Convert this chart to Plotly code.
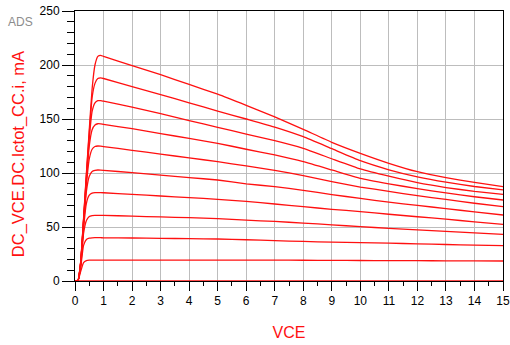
import plotly.graph_objects as go

# Collector-emitter voltage sample points (V)
vce = [0, 0.1, 0.2, 0.3, 0.4, 0.5, 0.6, 0.7, 0.8, 0.9,
       1, 2, 3, 4, 5, 6, 7, 8, 9, 10, 11, 12, 13, 14, 15]

# Collector current (mA), one family member per base-current step
ic_0 = [0] * 25
ic_1 = [0, 0, 9, 17, 18.9, 19.3, 19.4, 19.4, 19.4, 19.4,
        19.4, 19.4, 19.4, 19.4, 19.4, 19.3, 19.3, 19.2, 19.1, 19, 18.9, 18.8, 18.7, 18.6, 18.5]
ic_2 = [0, 0, 13, 33, 38.5, 39.7, 40, 40.1, 40.1, 40.1,
        40, 39.8, 39.5, 39.2, 38.9, 38.2, 37.4, 36.6, 36, 35.5, 35, 34.4, 33.8, 33.2, 32.7]
ic_3 = [0, 0, 14, 44, 56, 59.8, 60.6, 60.8, 60.8, 60.8,
        60.8, 60, 59.3, 58.6, 57.8, 56.3, 55.2, 53.6, 52, 50.3, 48.8, 47.4, 46, 44.6, 43.2]
ic_4 = [0, 0, 15, 49, 72, 79.5, 81.3, 81.8, 81.8, 81.8,
        81.7, 80.2, 78.7, 77.2, 75.6, 73.7, 71.3, 68.8, 66.4, 64.2, 61.8, 59.5, 57.2, 54.8, 52.5]
ic_5 = [0, 0, 16, 52, 83, 97, 101.5, 102.5, 102.8, 102.7,
        102.5, 100.3, 98, 95.8, 93.5, 90, 87.3, 84, 80, 76.5, 73, 70, 67, 64, 61.1]
ic_6 = [0, 0, 17, 54, 89, 113, 122, 124.5, 125, 124.8,
        124.5, 121, 117.5, 114, 110.5, 106.5, 102.5, 97.5, 92, 87, 83, 79, 75.5, 72, 68.8]
ic_7 = [0, 0, 17, 55, 93, 125, 140, 144.5, 145.6, 145.5,
        145, 141, 136.5, 132, 127.5, 122, 116.7, 110.5, 102.8, 95, 90, 85.5, 81.5, 78, 75]
ic_8 = [0, 0, 17, 56, 96, 132, 157, 165, 167, 167,
        166.5, 161, 155, 148.5, 142.3, 136, 130, 122.8, 113.2, 103.8, 97, 91, 86.5, 83, 80.3]
ic_9 = [0, 0, 18, 57, 98, 137, 170, 183, 187.5, 188,
        187.5, 180, 172.5, 165, 157.4, 150, 142.5, 133.6, 122.5, 111.4, 103, 96.5, 91.5, 87.5, 84.3]
ic_10 = [0, 0, 18, 58, 100, 140, 178, 200, 208, 209,
         208, 199.5, 191, 182, 173, 162.7, 152, 140.4, 128.4, 118.2, 109, 101.2, 95.7, 91.3, 87.3]

curves = [ic_0, ic_1, ic_2, ic_3, ic_4, ic_5, ic_6, ic_7, ic_8, ic_9, ic_10]

x_ticks = list(range(0, 16))
y_ticks = [0, 50, 100, 150, 200, 250]

FONT = "Arial, Liberation Sans, sans-serif"
RED = "#ff1010"

fig = go.Figure()
for ic in curves:
    fig.add_trace(go.Scatter(
        x=vce, y=ic, mode="lines",
        line=dict(color=RED, width=1.3, shape="spline", smoothing=0.4),
        cliponaxis=False, showlegend=False, hoverinfo="skip",
    ))

axis_common = dict(
    showline=True, linecolor="black", linewidth=1, mirror=True,
    showgrid=True, gridcolor="#bdbdbd", gridwidth=1,
    zeroline=False, ticks="outside", tickcolor="black",
    tickfont=dict(family=FONT, size=12, color="black"),
    layer="below traces", automargin=False,
)

fig.update_xaxes(
    range=[0, 15], tickvals=x_ticks, ticklen=9, tickwidth=1,
    minor=dict(dtick=0.5, ticks="outside", ticklen=4, tickcolor="black", showgrid=False),
    title=dict(text="VCE", font=dict(family=FONT, size=16, color=RED), standoff=19),
    **axis_common,
)
fig.update_yaxes(
    range=[0, 250], tickvals=y_ticks, ticklen=12, tickwidth=1,
    minor=dict(dtick=10, ticks="outside", ticklen=7, tickcolor="black", showgrid=False),
    **axis_common,
)

fig.add_annotation(
    text="DC_VCE.DC.Ictot_CC.i, mA", textangle=-90,
    xref="paper", yref="paper", x=-0.133, y=0.47,
    xanchor="center", yanchor="middle", showarrow=False,
    font=dict(family=FONT, size=16.5, color=RED),
)
fig.add_annotation(
    text="ADS", xref="paper", yref="paper", x=-0.128, y=0.96,
    xanchor="center", yanchor="middle", showarrow=False,
    font=dict(family=FONT, size=12, color="#8c8c8c"),
)

fig.update_layout(
    width=510, height=345,
    margin=dict(l=75, r=7, t=11, b=64),
    paper_bgcolor="white", plot_bgcolor="white",
)

fig.write_html("out.html")
